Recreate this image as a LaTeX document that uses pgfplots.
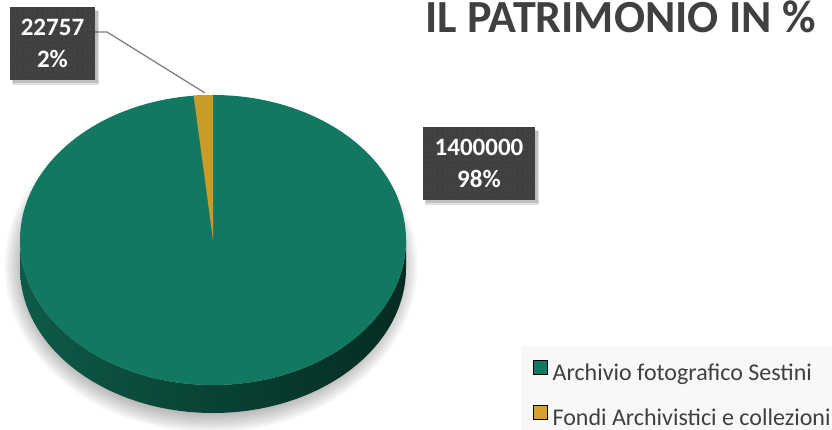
\documentclass[border=0pt]{standalone}
\usepackage{pgfplots}
\pgfplotsset{compat=1.18}
\usepackage{pgfplotstable}
\usepackage{fontspec}
\setmainfont{Carlito}
\usetikzlibrary{patterns.meta}
\definecolor{topgreen}{HTML}{127862}
\definecolor{leggreen}{HTML}{127A63}
\definecolor{slicey}{HTML}{C99B27}
\definecolor{legy}{HTML}{D6A130}
\definecolor{sideL}{HTML}{0E5A48}
\definecolor{sideM}{HTML}{063A2E}
\definecolor{sideR}{HTML}{042B22}
\definecolor{boxgray}{HTML}{404040}
\definecolor{dotgray}{HTML}{595959}
\definecolor{txtgray}{HTML}{404040}
\definecolor{legbg}{HTML}{F8F8F8}
\definecolor{leadergray}{HTML}{808080}

\pgfplotstableread{
label value
Archivio 1400000
Fondi 22757
}\piedata
\pgfplotstablegetelem{0}{value}\of\piedata \let\va\pgfplotsretval
\pgfplotstablegetelem{1}{value}\of\piedata \let\vb\pgfplotsretval
\edef\angB{\fpeval{360*\vb/(\va+\vb)}}
\edef\pctA{\fpeval{round(100*\va/(\va+\vb))}}
\edef\pctB{\fpeval{round(100*\vb/(\va+\vb))}}
\def\cx{213}\def\cy{190}\def\rx{193}\def\ry{145}\def\dep{28}

\begin{document}
\begin{tikzpicture}
\begin{axis}[name=ax, width=832pt, height=430pt, scale only axis,
  xmin=0, xmax=832, ymin=0, ymax=430, hide axis, clip=false,
  legend style={at={(axis cs:521,84)}, anchor=north west, fill=legbg, draw=none,
    font=\fontsize{24}{28}\selectfont, text=txtgray, inner xsep=12pt, inner ysep=14pt,
    row sep=20pt, legend cell align=left,
    nodes={inner xsep=5pt, inner ysep=0pt, text height=17pt, text depth=5pt}},
  legend image code/.code={\fill[#1] (0pt,0pt) rectangle (14pt,14pt);},
]
% soft shadow
\pgfplotsinvokeforeach{1,...,12}{
  \fill[black, opacity=0.028] (axis cs:211,164) ellipse [x radius={186pt+1.7pt*#1}, y radius={146pt+1.7pt*#1}];
}
% side
\pgfmathsetmacro{\xl}{\cx-\rx}\pgfmathsetmacro{\xr}{\cx+\rx}\pgfmathsetmacro{\yb}{\cy-\dep}
\shade[left color=sideL, middle color=sideM, right color=sideR]
  (axis cs:\xl,\cy) arc[start angle=180, end angle=360, x radius=\rx pt, y radius=\ry pt]
  -- (axis cs:\xr,\yb) arc[start angle=360, end angle=180, x radius=\rx pt, y radius=\ry pt] -- cycle;
% top face
\fill[topgreen] (axis cs:\cx,\cy) ellipse [x radius=\rx pt, y radius=\ry pt];
\pgfmathsetmacro{\ytop}{\cy+\ry}
\fill[slicey] (axis cs:\cx,\cy) -- (axis cs:\cx,\ytop)
  arc[start angle=90, end angle={90+\angB}, x radius=\rx pt, y radius=\ry pt] -- cycle;
% leader line
\draw[leadergray, line width=1.3pt] (axis cs:95,398) -- (axis cs:107,398) -- (axis cs:205,337);
% label boxes
\fill[black, opacity=0.12] (axis cs:12,345) rectangle (axis cs:99,419);
\fill[black, opacity=0.15] (axis cs:13,347) rectangle (axis cs:98,420);
\fill[boxgray] (axis cs:10,350) rectangle (axis cs:95,423);
\fill[pattern={Dots[distance=5pt, radius=0.7pt]}, pattern color=dotgray] (axis cs:10,350) rectangle (axis cs:95,423);
\node[text=white, font=\bfseries\fontsize{25}{32}\selectfont, align=center] at (axis cs:52.5,386.5) {\vb\\\pctB\%};
\fill[black, opacity=0.12] (axis cs:425,225) rectangle (axis cs:539,299);
\fill[black, opacity=0.15] (axis cs:426,227) rectangle (axis cs:538,300);
\fill[boxgray] (axis cs:423,230) rectangle (axis cs:535,303);
\fill[pattern={Dots[distance=5pt, radius=0.7pt]}, pattern color=dotgray] (axis cs:423,230) rectangle (axis cs:535,303);
\node[text=white, font=\bfseries\fontsize{25}{32}\selectfont, align=center] at (axis cs:479,266.5) {\va\\\pctA\%};
% title
\node[anchor=base west, text=txtgray, font=\bfseries\fontsize{46}{50}\selectfont, inner sep=0pt] at (axis cs:425,397) {IL PATRIMONIO IN \%};
\addlegendimage{fill=leggreen}
\addlegendentry{Archivio fotografico Sestini}
\addlegendimage{fill=legy}
\addlegendentry{Fondi Archivistici e collezioni}
\end{axis}
\pgfresetboundingbox
\path (ax.south west) rectangle (ax.north east);
\end{tikzpicture}
\end{document}
